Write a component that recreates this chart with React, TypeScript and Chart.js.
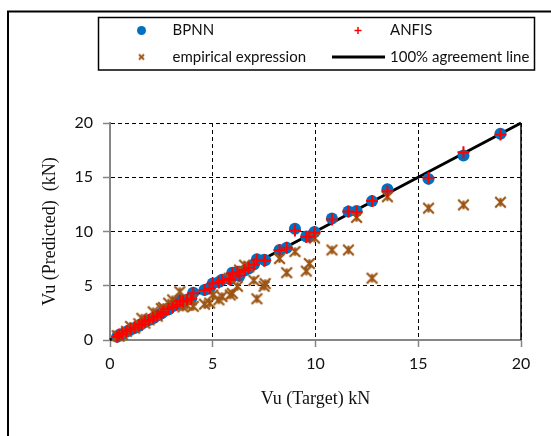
import { useEffect, useRef } from "react";
import { Chart, registerables } from "chart.js";

Chart.register(...registerables);

// Shear capacity Vu (kN): measured target and the three predictions per specimen
const targetVu = [
  19.0, 17.2, 15.5, 13.5, 12.75, 12.0, 11.6, 10.8, 9.95, 9.55, 9.7, 9.0, 8.6, 8.25,
  7.55, 7.5, 7.15, 7.0, 6.75, 6.55, 6.3, 6.2, 5.95, 5.85, 5.8, 5.45, 5.3, 5.0, 4.85,
  4.6, 4.05, 3.95, 3.75, 3.55, 3.4, 3.25, 3.05, 2.85, 2.6, 2.5, 2.3, 2.1, 1.9, 1.7,
  1.55, 1.4, 1.2, 1.0, 0.8, 0.6, 0.45, 0.35,
];
const bpnnVu = [
  19.0, 17.0, 14.85, 13.9, 12.8, 11.9, 11.85, 11.2, 9.95, 9.55, 9.55, 10.25, 8.5, 8.3,
  7.35, 7.4, 7.45, 6.95, 6.6, 6.4, 5.9, 6.3, 6.2, 5.6, 5.7, 5.55, 5.35, 5.2, 4.8,
  4.6, 4.35, 3.85, 3.7, 3.5, 3.7, 3.3, 3.1, 2.8, 2.6, 2.45, 2.25, 2.0, 1.85, 1.65,
  1.5, 1.3, 1.1, 0.95, 0.75, 0.55, 0.45, 0.3,
];
const anfisVu = [
  18.95, 17.3, 14.95, 13.7, 12.8, 11.8, 11.85, 11.1, 9.9, 9.5, 9.55, 10.1, 8.5, 8.3,
  7.35, 7.3, 7.4, 6.95, 6.65, 6.45, 5.95, 6.25, 6.15, 5.55, 5.65, 5.5, 5.3, 5.2, 4.75,
  4.6, 4.3, 3.8, 3.7, 3.55, 3.6, 3.25, 3.05, 2.85, 2.6, 2.4, 2.2, 2.05, 1.85, 1.7,
  1.45, 1.35, 1.15, 1.0, 0.8, 0.6, 0.5, 0.3,
];
const empiricalVu = [
  12.7, 12.45, 12.15, 13.2, 5.7, 11.3, 8.3, 8.3, 9.4, 6.35, 7.05, 8.15, 6.2, 7.5,
  5.2, 4.95, 3.8, 5.5, 6.75, 6.9, 6.45, 4.95, 4.3, 4.15, 5.7, 4.0, 3.7, 4.15, 3.4,
  3.3, 3.1, 3.7, 3.2, 3.05, 4.45, 3.4, 3.7, 3.4, 3.0, 2.9, 2.2, 2.6, 1.85, 1.55,
  2.0, 1.5, 1.1, 1.25, 0.8, 0.5, 0.35, 0.4,
];
const agreementVu = [0, 20];
const axisMin = 0;
const axisMax = 20;
const axisStep = 5;

const BLUE = "#0070C0";
const RED = "#FF0000";
const BROWN = "#9C5514";

const pairs = (xs: number[], ys: number[]) => xs.map((x, i) => ({ x, y: ys[i] }));

// Asterisk-style marker: an X crossed by a vertical stroke
function makeStar(size: number, lw: number): HTMLCanvasElement {
  const c = document.createElement("canvas");
  c.width = size;
  c.height = size;
  const g = c.getContext("2d")!;
  const m = lw;
  g.strokeStyle = BROWN;
  g.lineWidth = lw;
  g.beginPath();
  g.moveTo(m, m);
  g.lineTo(size - m, size - m);
  g.moveTo(size - m, m);
  g.lineTo(m, size - m);
  g.moveTo(size / 2, m + 1);
  g.lineTo(size / 2, size - m - 1);
  g.stroke();
  return c;
}

export default function App() {
  const canvasRef = useRef<HTMLCanvasElement | null>(null);

  useEffect(() => {
    const canvas = canvasRef.current;
    if (!canvas) return;
    const star = makeStar(15, 2.2);
    const legendStar = makeStar(9, 2);

    const decor = {
      id: "decor",
      afterDraw(chart: any) {
        const { ctx, chartArea, scales } = chart;
        ctx.save();
        // solid right edge of the plot area
        const xr = scales.x.getPixelForValue(axisMax);
        ctx.strokeStyle = "#000";
        ctx.lineWidth = 1.5;
        ctx.beginPath();
        ctx.moveTo(xr, chartArea.top);
        ctx.lineTo(xr, chartArea.bottom);
        ctx.stroke();

        // outer frame
        ctx.lineWidth = 2;
        ctx.strokeRect(8, 11.5, 620, 500);

        // legend box
        ctx.lineWidth = 1.5;
        ctx.strokeRect(98.5, 17.5, 436, 52.5);

        const r1 = 30.5;
        const r2 = 57;
        ctx.font = "15px Lato";
        ctx.textBaseline = "middle";
        ctx.textAlign = "left";

        ctx.fillStyle = BLUE;
        ctx.beginPath();
        ctx.arc(141.5, r1, 4.5, 0, Math.PI * 2);
        ctx.fill();

        ctx.strokeStyle = RED;
        ctx.lineWidth = 1.5;
        ctx.beginPath();
        ctx.moveTo(354.5, r1);
        ctx.lineTo(361.5, r1);
        ctx.moveTo(358, r1 - 3.5);
        ctx.lineTo(358, r1 + 3.5);
        ctx.stroke();

        ctx.drawImage(legendStar, 141.5 - 4.5, r2 - 4.5);

        ctx.strokeStyle = "#000";
        ctx.lineWidth = 3;
        ctx.beginPath();
        ctx.moveTo(332, r2);
        ctx.lineTo(385, r2);
        ctx.stroke();

        ctx.fillStyle = "#111";
        ctx.fillText("BPNN", 172.5, r1);
        ctx.fillText("ANFIS", 390, r1);
        ctx.fillText("empirical expression", 172.5, r2);
        ctx.fillText("100% agreement line", 390, r2);
        ctx.restore();
      },
    };

    const chart = new Chart(canvas, {
      type: "scatter",
      data: {
        datasets: [
          {
            label: "ANFIS",
            data: pairs(targetVu, anfisVu),
            pointStyle: "cross",
            pointRadius: 6,
            borderColor: RED,
            backgroundColor: RED,
            pointBorderWidth: 2,
            order: 1,
            clip: false,
          },
          {
            label: "empirical expression",
            data: pairs(targetVu, empiricalVu),
            pointStyle: star,
            pointRadius: 7,
            borderColor: BROWN,
            backgroundColor: BROWN,
            order: 2,
            clip: false,
          },
          {
            label: "BPNN",
            data: pairs(targetVu, bpnnVu),
            pointStyle: "circle",
            pointRadius: 6,
            borderWidth: 0,
            pointBorderWidth: 0,
            backgroundColor: BLUE,
            borderColor: BLUE,
            order: 3,
            clip: false,
          },
          {
            label: "100% agreement line",
            data: pairs(agreementVu, agreementVu),
            showLine: true,
            pointRadius: 0,
            borderColor: "#000",
            borderWidth: 3,
            order: 4,
            clip: false,
          },
        ],
      },
      options: {
        animation: false,
        responsive: false,
        devicePixelRatio: 1,
        layout: { padding: { left: 10, top: 123, right: 30, bottom: 0 } },
        plugins: { legend: { display: false }, tooltip: { enabled: false } },
        scales: {
          x: {
            type: "linear",
            min: axisMin,
            max: axisMax,
            afterFit: (s: any) => {
              s.height = 96;
            },
            ticks: {
              stepSize: axisStep,
              color: "#111",
              font: { family: "Lato", size: 16 },
              padding: 7,
            },
            grid: {
              color: "#000",
              lineWidth: 1,
              tickColor: "#868686",
              tickLength: 7,
              tickWidth: 1.5,
              tickBorderDash: [],
            },
            border: { color: "#868686", width: 2, dash: [4, 3] },
            title: {
              display: true,
              text: "Vu (Target) kN",
              color: "#111",
              font: { family: "Liberation Serif", size: 18 },
              padding: { top: 0, bottom: 26 },
            },
          },
          y: {
            type: "linear",
            min: axisMin,
            max: axisMax,
            afterFit: (s: any) => {
              s.width = 100;
            },
            ticks: {
              stepSize: axisStep,
              color: "#111",
              font: { family: "Lato", size: 16 },
              padding: 10,
            },
            grid: {
              color: "#000",
              lineWidth: 1,
              tickColor: "#868686",
              tickLength: 7,
              tickWidth: 1.5,
              tickBorderDash: [],
            },
            border: { color: "#868686", width: 2, dash: [4, 3] },
            title: {
              display: true,
              text: "Vu (Predicted)  (kN)",
              color: "#111",
              font: { family: "Liberation Serif", size: 18 },
              padding: { top: 29, bottom: 0 },
            },
          },
        },
      },
      plugins: [decor],
    } as any);

    return () => chart.destroy();
  }, []);

  return (
    <div style={{ position: "absolute", left: 0, top: 0, width: 551, height: 436, background: "#fff" }}>
      <canvas ref={canvasRef} width={551} height={436} style={{ display: "block" }} />
    </div>
  );
}
